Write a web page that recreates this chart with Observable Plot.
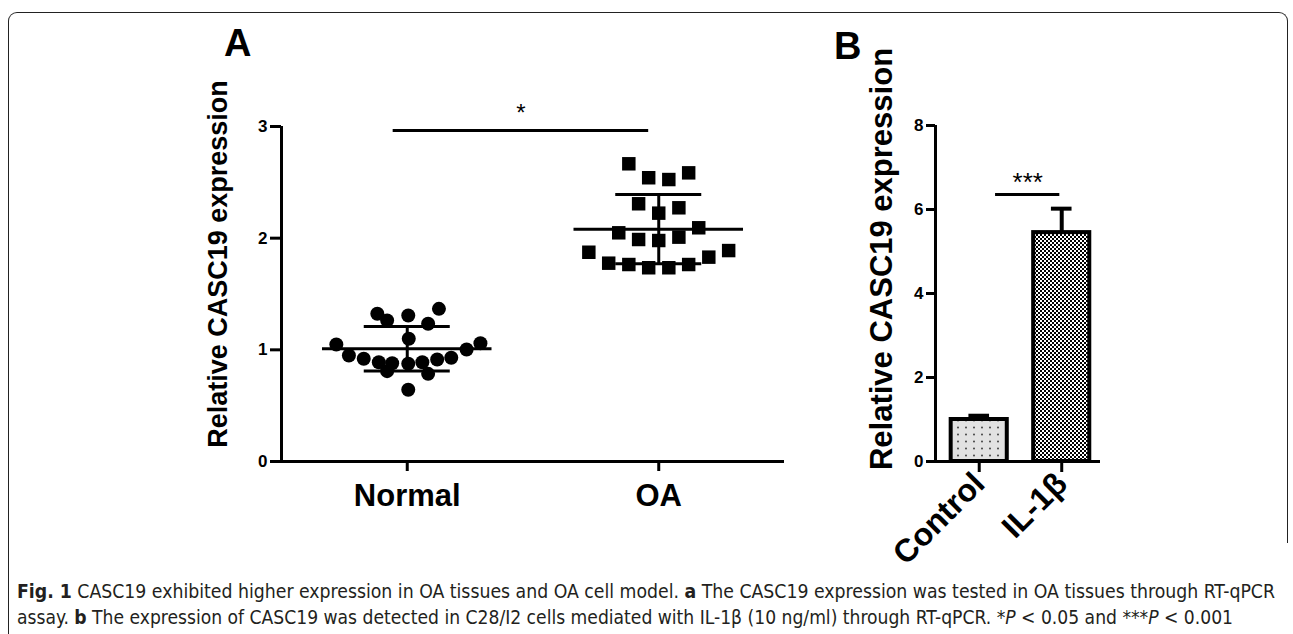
<!DOCTYPE html>
<html><head><meta charset="utf-8">
<script src="https://cdn.jsdelivr.net/npm/d3@7"></script>
<script src="https://cdn.jsdelivr.net/npm/@observablehq/plot@0.6"></script>
<style>
body{margin:0;background:#fff;}
#wrap{position:relative;width:1293px;height:634px;overflow:hidden;font-family:"Liberation Sans",Arial,sans-serif;color:#000;}
.ylab{position:absolute;font-weight:bold;font-size:27px;white-space:nowrap;line-height:1;transform:translate(-50%,-50%) rotate(-90deg);}
.letter{position:absolute;font-weight:bold;font-size:38px;line-height:1;}
.cap{position:absolute;left:17px;white-space:nowrap;font-size:20px;line-height:26px;font-family:"Liberation Sans Narrow","DejaVu Sans Condensed","Open Sans",sans-serif;color:#231f20;transform-origin:0 50%;}
.box1{position:absolute;left:8px;top:12px;width:1278px;height:530px;border:1.5px solid #222;border-bottom:none;border-radius:9px 9px 0 0;}
.box2{position:absolute;left:8px;top:542px;height:100px;border-left:1.5px solid #222;}
#pa,#pb{position:absolute;}
#pa{left:150px;top:60px;}
#pb{left:890px;top:60px;}
#pa svg [aria-label="y-axis tick label"], #pb svg [aria-label="y-axis tick label"]{font-weight:bold;font-family:"Liberation Sans",Arial,sans-serif;}
</style></head>
<body><div id="wrap">
<div class="box1"></div><div class="box2"></div>
<div class="letter" style="left:224px;top:24px;">A</div>
<div class="letter" style="left:834px;top:27px;">B</div>
<div class="ylab" style="left:218px;top:264px;">Relative CASC19 expression</div>
<div class="ylab" style="left:881px;top:259px;font-size:31px;">Relative CASC19 expression</div>
<div id="pa"></div><div id="pb"></div>
<div class="cap" id="cap1" style="top:578px;"><b>Fig. 1</b> CASC19 exhibited higher expression in OA tissues and OA cell model. <b>a</b> The CASC19 expression was tested in OA tissues through RT-qPCR</div>
<div class="cap" id="cap2" style="top:604px;">assay. <b>b</b> The expression of CASC19 was detected in C28/I2 cells mediated with IL-1β (10 ng/ml) through RT-qPCR. *<i>P</i> &lt; 0.05 and ***<i>P</i> &lt; 0.001</div>
</div>
<script>
// ---- Panel A data ----
const groupsA = ["Normal", "OA"];
const groupPosA = [1, 2];
const normalX = [0.881,0.920,1.004,1.126,1.083,1.006,0.718,1.291,1.236,0.768,0.827,0.887,0.940,1.004,1.060,1.119,1.175,0.920,1.083,1.004];
const normalY = [1.323,1.263,1.307,1.367,1.233,1.099,1.048,1.059,1.003,0.949,0.920,0.889,0.880,0.875,0.889,0.913,0.929,0.809,0.785,0.642];
const oaX = [1.881,1.960,2.040,2.119,1.920,2.000,2.080,1.841,2.159,1.920,2.000,2.080,1.722,2.278,2.199,1.801,1.881,1.960,2.040,2.119];
const oaY = [2.666,2.541,2.525,2.585,2.308,2.224,2.272,2.048,2.093,1.988,1.979,2.009,1.874,1.889,1.830,1.776,1.764,1.735,1.735,1.764];
const meanA = [1.01, 2.08];
const sdA = [0.20, 0.31];
const yTicksA = [0, 1, 2, 3];
const sigA = [{x1: 0.944, x2: 1.960, y: 2.964, label: "*"}];

// ---- Panel B data ----
const groupsB = ["Control", "IL-1β"];
const groupPosB = [1, 2];
const meanB = [1.00, 5.45];
const sdB = [0.09, 0.57];
const yTicksB = [0, 2, 4, 6, 8];
const sigB = [{x1: 1.198, x2: 1.977, y: 6.36, label: "***"}];

const normal = normalX.map((x, i) => ({x, y: normalY[i]}));
const oa = oaX.map((x, i) => ({x, y: oaY[i]}));
const statsA = groupPosA.map((p, i) => ({pos: p, mean: meanA[i], sd: sdA[i]}));
const bars = groupPosB.map((p, i) => ({pos: p, mean: meanB[i], sd: sdB[i]}));

const font = "'Liberation Sans', Arial, sans-serif";
const MEAN_HALF = 0.337, SD_HALF = 0.171;
const intFmt = d => String(d);

const plotA = Plot.plot({
  width: 650, height: 470,
  marginLeft: 131, marginRight: 16, marginTop: 66, marginBottom: 69,
  style: {fontFamily: font, fontWeight: "bold", background: "transparent", overflow: "visible", color: "#000"},
  x: {domain: [0.5, 2.5]},
  y: {domain: [0, 3]},
  marks: [
    Plot.ruleX([0.5], {stroke: "#000", strokeWidth: 3}),
    Plot.ruleY([0], {stroke: "#000", strokeWidth: 3}),
    Plot.axisY(yTicksA, {tickSize: 11, tickPadding: 3, strokeWidth: 3, fontSize: 17, fontWeight: "bold", fontFamily: font, tickFormat: intFmt, label: null}),
    Plot.axisX(groupPosA, {tickSize: 10, tickPadding: 12, strokeWidth: 3, fontSize: 31, fontWeight: "bold", fontFamily: font, tickFormat: d => groupsA[d - 1], label: null}),
    Plot.dot(normal, {x: "x", y: "y", r: 7, fill: "#000", stroke: null}),
    Plot.dot(oa, {x: "x", y: "y", r: 7.6, symbol: "square", fill: "#000", stroke: null}),
    Plot.ruleY(statsA, {y: "mean", x1: d => d.pos - MEAN_HALF, x2: d => d.pos + MEAN_HALF, strokeWidth: 3}),
    Plot.ruleY(statsA, {y: d => d.mean + d.sd, x1: d => d.pos - SD_HALF, x2: d => d.pos + SD_HALF, strokeWidth: 3}),
    Plot.ruleY(statsA, {y: d => d.mean - d.sd, x1: d => d.pos - SD_HALF, x2: d => d.pos + SD_HALF, strokeWidth: 3}),
    Plot.ruleX(statsA, {x: "pos", y1: d => d.mean - d.sd, y2: d => d.mean + d.sd, strokeWidth: 3}),
    Plot.ruleY(sigA, {y: "y", x1: "x1", x2: "x2", strokeWidth: 3}),
    Plot.text(sigA, {x: d => (d.x1 + d.x2) / 2, y: "y", text: "label", fontSize: 24, fontWeight: "normal", fontFamily: font, dy: -17, lineAnchor: "middle"})
  ]
});
document.getElementById("pa").appendChild(plotA);

const BAR_HALF = 0.34, CAP_HALF = 0.125;
const defs = () => {
  const ns = "http://www.w3.org/2000/svg";
  const g = document.createElementNS(ns, "defs");
  g.innerHTML = `
    <pattern id="dots" width="8" height="7" patternUnits="userSpaceOnUse">
      <rect width="8" height="7" fill="#e2e2e2"/><circle cx="4" cy="3.5" r="0.9" fill="#333"/>
    </pattern>
    <pattern id="checks" width="4" height="4" patternUnits="userSpaceOnUse">
      <rect width="4" height="4" fill="#fff"/><rect width="2" height="2" fill="#000"/><rect x="2" y="2" width="2" height="2" fill="#000"/>
    </pattern>`;
  return g;
};

const plotB = Plot.plot({
  width: 240, height: 530,
  marginLeft: 45, marginRight: 30, marginTop: 65, marginBottom: 129,
  style: {fontFamily: font, fontWeight: "bold", background: "transparent", overflow: "visible", color: "#000"},
  x: {domain: [0.47, 2.47]},
  y: {domain: [0, 8]},
  marks: [
    defs,
    Plot.ruleX([0.47], {stroke: "#000", strokeWidth: 3}),
    Plot.ruleY([0], {stroke: "#000", strokeWidth: 3}),
    Plot.axisY(yTicksB, {tickSize: 9, tickPadding: 3, strokeWidth: 3, fontSize: 17, fontWeight: "bold", fontFamily: font, tickFormat: intFmt, label: null}),
    Plot.axisX(groupPosB, {tickSize: 11, tickPadding: 6, strokeWidth: 3, fontSize: 32, fontWeight: "bold", fontFamily: font, tickRotate: -45, tickFormat: d => groupsB[d - 1], label: null}),
    Plot.ruleX(bars, {x: "pos", y1: "mean", y2: d => d.mean + d.sd, strokeWidth: 4}),
    Plot.ruleY(bars, {y: d => d.mean + d.sd, x1: d => d.pos - CAP_HALF, x2: d => d.pos + CAP_HALF, strokeWidth: 4}),
    Plot.rect([bars[0]], {x1: d => d.pos - BAR_HALF, x2: d => d.pos + BAR_HALF, y1: d => 0, y2: "mean", fill: "url(#dots)", stroke: "#000", strokeWidth: 4}),
    Plot.rect([bars[1]], {x1: d => d.pos - BAR_HALF, x2: d => d.pos + BAR_HALF, y1: d => 0, y2: "mean", fill: "url(#checks)", stroke: "#000", strokeWidth: 4}),
    Plot.ruleY(sigB, {y: "y", x1: "x1", x2: "x2", strokeWidth: 3}),
    Plot.text(sigB, {x: d => (d.x1 + d.x2) / 2, y: "y", text: "label", fontSize: 26, fontWeight: "normal", fontFamily: font, dy: -12, lineAnchor: "middle"})
  ]
});
document.getElementById("pb").appendChild(plotB);

// fit caption lines to the reference widths
function fit(id, target) {
  const el = document.getElementById(id);
  const w = el.getBoundingClientRect().width;
  if (w > 0) el.style.transform = `scaleX(${target / w})`;
}
fit("cap1", 1258);
fit("cap2", 1216);
</script>
</body></html>
